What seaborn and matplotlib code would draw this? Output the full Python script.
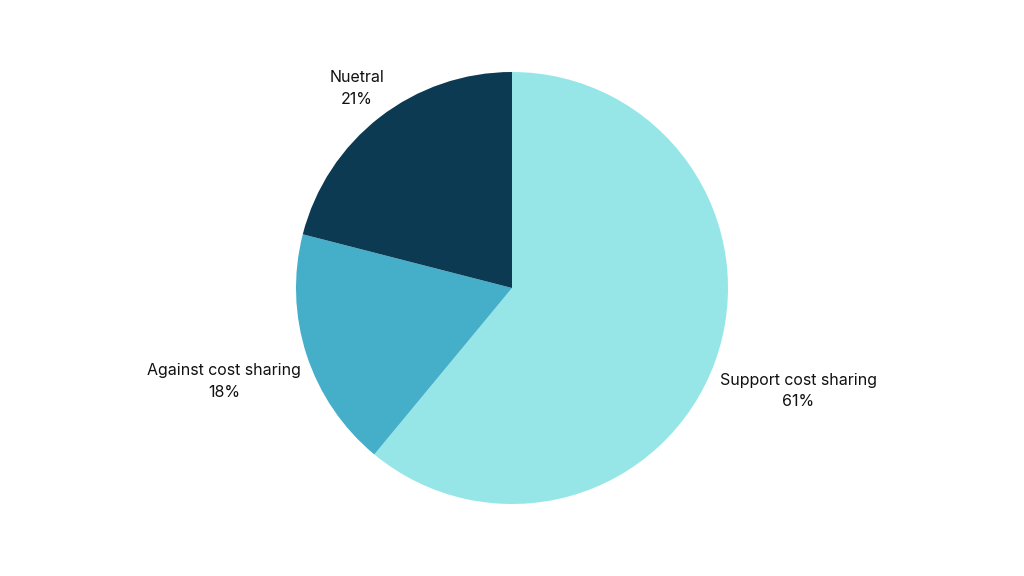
import numpy as np
import matplotlib
matplotlib.use("Agg")
import matplotlib.pyplot as plt
import seaborn as sns

labels = ["Support cost sharing", "Against cost sharing", "Nuetral"]
shares = [61, 18, 21]
colors = ["#96E6E8", "#45AFCA", "#0B3A52"]
label_dist = [1.41, 1.40, 1.17]

sns.set_theme(style="white")
plt.rcParams["font.family"] = ["Inter", "DejaVu Sans"]

fig = plt.figure(figsize=(10.24, 5.76), dpi=100)
ax = fig.add_axes([0, 0, 1, 1])

wedges, _ = ax.pie(shares, colors=colors, startangle=90, counterclock=False,
                   radius=1, center=(0, 0), wedgeprops=dict(linewidth=0))

for w, lab, val, d in zip(wedges, labels, shares, label_dist):
    mid = np.deg2rad((w.theta1 + w.theta2) / 2)
    ax.text(d * np.cos(mid), d * np.sin(mid), f"{lab}\n{val}%",
            ha="center", va="center", fontsize=11.5, color="#111111",
            linespacing=1.55)

ax.set_xlim(-512 / 216, 512 / 216)
ax.set_ylim(-288 / 216, 288 / 216)
ax.set_aspect("equal")
ax.axis("off")

fig.savefig("out.png", dpi=100, facecolor="white")
